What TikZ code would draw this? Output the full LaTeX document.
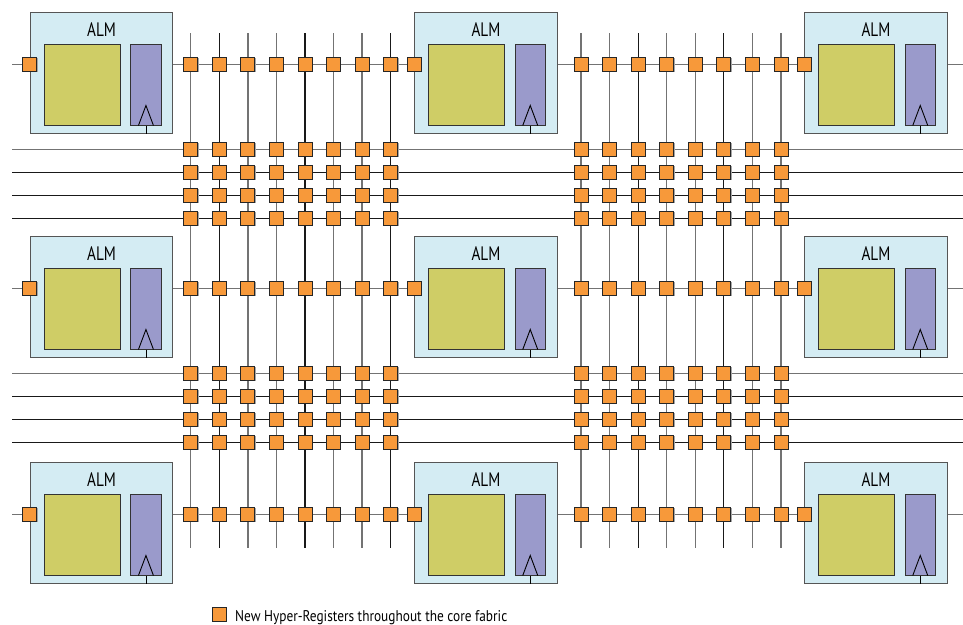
\documentclass[tikz,border=0pt]{standalone}
\usepackage{fontspec}
\setmainfont[FakeStretch=0.78]{PT Sans}
\newfontfamily\legendfont[FakeStretch=0.86]{PT Sans}
\usetikzlibrary{shadows}
\definecolor{almfill}{RGB}{212,236,243}
\definecolor{almdraw}{RGB}{85,85,85}
\definecolor{lutfill}{RGB}{207,205,102}
\definecolor{fffill}{RGB}{154,154,203}
\definecolor{regfill}{RGB}{247,153,58}
\definecolor{wiregray}{RGB}{115,115,115}
\definecolor{wiredark}{RGB}{25,25,25}
\tikzset{
  wg/.style={draw=wiregray, line width=1.5pt},
  wk/.style={draw=wiredark, line width=1.1pt},
  alm/.style={rectangle, draw=almdraw, fill=almfill, line width=1.2pt,
    minimum width=142.5pt, minimum height=121.3pt, inner sep=0pt},
  lut/.style={rectangle, draw=black!80, fill=lutfill, line width=1pt,
    minimum width=76pt, minimum height=80.5pt, inner sep=0pt, anchor=north west},
  ffbox/.style={rectangle, draw=black!80, fill=fffill, line width=1pt,
    minimum width=30.5pt, minimum height=80.5pt, inner sep=0pt, anchor=north west},
  clk/.style={draw=black, line width=0.9pt},
  regbox/.style={rectangle, draw=black!85, fill=regfill, line width=0.9pt,
    minimum size=14pt, inner sep=0pt,
    drop shadow={shadow xshift=0.9pt, shadow yshift=-0.9pt, fill=black!35, opacity=1}},
  almtext/.style={anchor=base, inner sep=0pt, font=\fontsize{19.5}{21}\selectfont},
  legtext/.style={anchor=base west, inner sep=0pt, font=\legendfont\fontsize{15.5}{17}\selectfont}
}
\begin{document}
\begin{tikzpicture}[x=1pt,y=-1pt]
\useasboundingbox (0,0) rectangle (963,624);

% vertical routing lines
\foreach \i/\st in {0/wg,1/wk,2/wg,3/wg,4/wk,5/wg,6/wg,7/wk} {
  \coordinate (vt-1-\i) at ({190.7+28.57*\i},33);
  \coordinate (vb-1-\i) at ({190.7+28.57*\i},548);
  \draw[\st] (vt-1-\i) -- (vb-1-\i);
}
\foreach \i/\st in {0/wg,1/wg,2/wk,3/wg,4/wg,5/wk,6/wg,7/wg} {
  \coordinate (vt-2-\i) at ({581+28.57*\i},33);
  \coordinate (vb-2-\i) at ({581+28.57*\i},548);
  \draw[\st] (vt-2-\i) -- (vb-2-\i);
}

% horizontal routing lines
\foreach \k/\y/\st in {1/149.3/wg,2/172.3/wk,3/195.3/wk,4/218.3/wk,
                       5/373.3/wg,6/396.3/wk,7/419.3/wk,8/442.3/wk} {
  \coordinate (hl-\k) at (12,\y);
  \coordinate (hr-\k) at (963,\y);
  \draw[\st] (hl-\k) -- (hr-\k);
}

% ALM blocks
\foreach \r/\ty in {1/12,2/236,3/462} {
  \foreach \c/\lx in {1/30,2/414.3,3/804.3} {
    \node[alm] (alm-\r-\c) at ({\lx+71.6},{\ty+61.2}) {};
    \node[lut] (lut-\r-\c) at ({\lx+13.5},{\ty+32}) {};
    \node[ffbox] (ff-\r-\c) at ({\lx+100.2},{\ty+32}) {};
    \draw[clk] ([xshift=-7.5pt]ff-\r-\c.south) -- ++(7.5,-20) -- ++(7.5,20);
    \draw[clk] (ff-\r-\c.south) -- (ff-\r-\c.south |- alm-\r-\c.south);
    \node[almtext] (t-\r-\c) at ({\lx+71.6},{\ty+24.7}) {ALM};
  }
  % row wires
  \coordinate (wl-\r) at (12,{\ty+52.4});
  \coordinate (wr-\r) at (963,{\ty+52.4});
  \draw[wg] (wl-\r) -- (wl-\r -| alm-\r-1.west);
  \draw[wg] (wl-\r -| alm-\r-1.east) -- (wl-\r -| alm-\r-2.west);
  \draw[wg] (wl-\r -| alm-\r-2.east) -- (wl-\r -| alm-\r-3.west);
  \draw[wg] (wl-\r -| alm-\r-3.east) -- (wr-\r);
}

% Hyper-Registers on row wires
\foreach \r in {1,2,3} {
  \foreach \c in {1,2,3} {
    \node[regbox] (ri-\r-\c) at (wl-\r -| alm-\r-\c.west) {};
  }
  \foreach \g in {1,2} {
    \foreach \i in {0,...,7} {
      \node[regbox] (rg-\r-\g-\i) at (wl-\r -| vt-\g-\i) {};
    }
  }
}
% Hyper-Registers on routing crossings
\foreach \k in {1,...,8} {
  \foreach \g in {1,2} {
    \foreach \i in {0,...,7} {
      \node[regbox] (rb-\k-\g-\i) at (hl-\k -| vt-\g-\i) {};
    }
  }
}

% legend
\node[regbox] (leg) at (219,614) {};
\node[legtext] (legt) at (235,621) {New Hyper-Registers throughout the core fabric};
\end{tikzpicture}
\end{document}
